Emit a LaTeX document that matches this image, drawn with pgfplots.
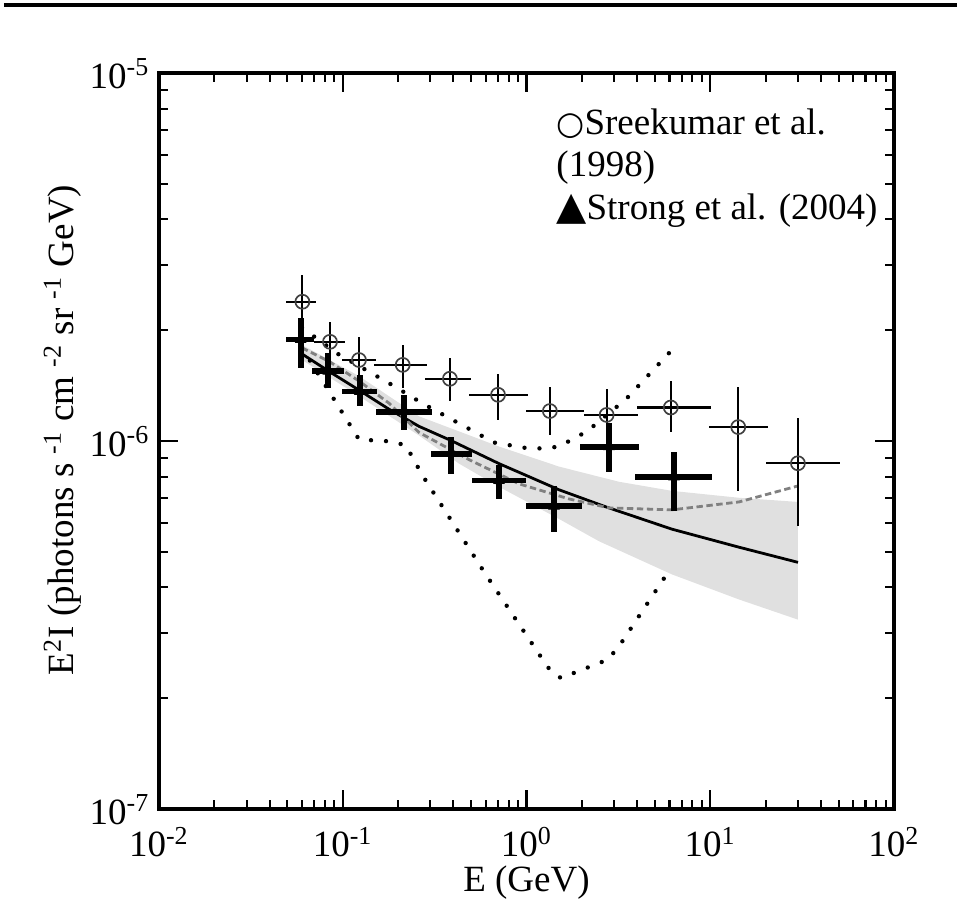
\documentclass[border=0pt]{standalone}
\usepackage{fontspec}
\setmainfont{Liberation Serif}
\newfontfamily\symf{DejaVu Sans}
\usepackage{pgfplots}
\pgfplotsset{compat=1.18}
\begin{document}
\fontsize{13.2}{15.8}\selectfont
\begin{tikzpicture}
\begin{axis}[
  scale only axis, width=92.16mm, height=92.29mm,
  xmode=log, ymode=log, log basis x=10, log basis y=10,
  xmin=1e-2, xmax=1e2, ymin=1e-7, ymax=1e-5,
  axis line style={line width=1.1pt},
  every tick/.style={black, line width=0.75pt},
  major tick length=2.4mm, minor tick length=1.15mm,
  tick align=inside, xtick pos=both, ytick pos=both,
  xticklabel pos=lower, yticklabel pos=left,
  xticklabel={\pgfmathtruncatemacro{\ex}{round(\tick)}10\textsuperscript{\ex}},
  yticklabel={\pgfmathtruncatemacro{\ex}{round(\tick)}10\textsuperscript{\ex}},
  tick label style={font=\fontsize{13.2}{15.8}\selectfont},
  xticklabel style={anchor=base, inner sep=0pt, yshift=-6.0mm},
  yticklabel style={anchor=base east, inner sep=0pt, xshift=-1.1mm, yshift=-1.9mm},
  label style={font=\fontsize{13.2}{15.8}\selectfont},
  xlabel={E (GeV)},
  xlabel style={at={(axis description cs:0.5,-0.1124)}, anchor=base, inner sep=0pt},
  ylabel={E\textsuperscript{2}I (photons s \textsuperscript{-1} cm \textsuperscript{-2} sr \textsuperscript{-1} GeV)},
  ylabel style={at={(axis description cs:-0.117,0.515)}, anchor=base, inner sep=0pt},
]
% uncertainty band
\addplot[fill=black!12, draw=none] coordinates {
  (0.0600,1.825e-6) (0.1226,1.501e-6) (0.2600,1.167e-6) (0.4292,1.062e-6)
  (0.7085,9.66e-7) (1.503,8.52e-7) (3.187,7.75e-7) (6.19,7.32e-7)
  (14.34,7.01e-7) (30.03,6.83e-7)
  (30.03,3.27e-7) (14.34,3.71e-7) (6.19,4.34e-7) (2.481,5.34e-7)
  (1.503,6.14e-7) (0.7085,7.51e-7) (0.4292,8.68e-7) (0.2600,1.035e-6)
  (0.1226,1.324e-6) (0.0600,1.661e-6)
} -- cycle;
% solid fit
\addplot[black, line width=0.35mm] coordinates {
  (0.0600,1.724e-6) (0.0852,1.540e-6) (0.1226,1.375e-6) (0.1785,1.220e-6)
  (0.2600,1.096e-6) (0.3882,1.003e-6) (0.7085,8.68e-7) (1.032,8.00e-7)
  (1.503,7.37e-7) (2.709,6.62e-7) (6.19,5.76e-7) (14.34,5.145e-7) (30.03,4.68e-7)
};
% dashed
\addplot[black!50, line width=0.35mm, dash pattern=on 0.8mm off 0.45mm] coordinates {
  (0.0600,1.791e-6) (0.0852,1.640e-6) (0.1226,1.455e-6) (0.1785,1.267e-6)
  (0.2600,1.055e-6) (0.4866,8.90e-7) (0.9104,7.65e-7) (1.703,6.96e-7)
  (2.812,6.58e-7) (6.19,6.50e-7) (14.34,6.83e-7) (30.03,7.55e-7)
};
% upper dotted
\addplot[black, line width=0.55mm, line cap=round, dash pattern=on 0pt off 1.88mm] coordinates {
  (0.0600,2.031e-6) (0.0942,1.724e-6) (0.1901,1.410e-6) (0.2700,1.267e-6)
  (0.6655,9.906e-7) (0.9938,9.57e-7) (1.245,9.54e-7) (1.503,9.66e-7)
  (2.135,1.062e-6) (3.479,1.299e-6) (6.115,1.757e-6)
};
% lower dotted
\addplot[black, line width=0.55mm, line cap=round, dash pattern=on 0pt off 1.88mm] coordinates {
  (0.0600,1.791e-6) (0.1226,1.0095e-6) (0.1854,9.97e-7) (0.2209,9.72e-7)
  (0.2700,8.10e-7) (0.5943,4.37e-7) (1.199,2.589e-7) (1.343,2.385e-7)
  (1.541,2.268e-7) (1.859,2.355e-7) (2.743,2.541e-7) (3.148,2.741e-7)
  (6.19,4.565e-7)
};
% Strong et al. (2004)
\addplot[black, only marks, mark=triangle*, mark size=2pt,
  error bars/.cd, x dir=both, x explicit, y dir=both, y explicit,
  error mark=none, error bar style={line width=2.1pt, black}]
  table[x=x, y=y, x error minus=xm, x error plus=xp, y error minus=ym, y error plus=yp] {
x y xm xp ym yp
0.0590 1.887e-6 0.0101 0.0108 3.08e-7 2.77e-7
0.0834 1.546e-6 0.0154 0.0182 1.54e-7 1.89e-7
0.1237 1.363e-6 0.0246 0.0299 1.22e-7 1.51e-7
0.2154 1.202e-6 0.0643 0.0917 1.32e-7 1.33e-7
0.3868 9.24e-7 0.0858 0.1202 1.09e-7 1.03e-7
0.7085 7.81e-7 0.2015 0.2815 0.85e-7 0.78e-7
1.411 6.65e-7 0.421 0.589 0.98e-7 0.89e-7
2.81 9.64e-7 0.862 1.286 1.40e-7 1.52e-7
6.35 7.98e-7 2.455 3.83 1.51e-7 1.36e-7
};
% Sreekumar et al. (1998)
\addplot[black, only marks, mark=o, mark size=2.5pt, mark options={black!75, line width=0.6pt},
  error bars/.cd, x dir=both, x explicit, y dir=both, y explicit,
  error mark=none, error bar style={line width=0.75pt, black}]
  table[x=x, y=y, x error minus=xm, x error plus=xp, y error minus=ym, y error plus=yp] {
x y xm xp ym yp
0.0603 2.39e-6 0.0114 0.0110 4.2e-7 4.4e-7
0.0852 1.86e-6 0.0154 0.0176 2.3e-7 2.5e-7
0.1225 1.66e-6 0.0234 0.0292 2.23e-7 2.56e-7
0.212 1.61e-6 0.064 0.0754 2.18e-7 2.19e-7
0.383 1.476e-6 0.1027 0.116 1.93e-7 2.05e-7
0.70 1.335e-6 0.213 0.315 1.95e-7 1.88e-7
1.34 1.206e-6 0.35 0.716 1.69e-7 1.95e-7
2.73 1.177e-6 0.674 1.33 1.61e-7 2.06e-7
6.1 1.233e-6 2.09 3.96 1.78e-7 2.19e-7
14.2 1.091e-6 4.36 6.4 3.58e-7 3.1e-7
30.0 8.70e-7 9.8 20.8 2.84e-7 2.88e-7
};
% legend text
\node[anchor=base west, inner sep=0pt] at (rel axis cs:0.540,0.9158)
  {{\symf\fontsize{11.5}{12}\selectfont ○}Sreekumar et al.};
\node[anchor=base west, inner sep=0pt] at (rel axis cs:0.540,0.8587) {(1998)};
\node[anchor=base west, inner sep=0pt] at (rel axis cs:0.540,0.8016)
  {{\symf\fontsize{14}{15}\selectfont ▲}Strong et al. (2004)};
\end{axis}
\draw[line width=0.5mm] ([shift={(-19.44mm,8.49mm)}]current axis.north west) -- ([shift={(7.9mm,8.49mm)}]current axis.north east);
\pgfresetboundingbox
\path[use as bounding box] ([shift={(-19.94mm,-13.79mm)}]current axis.south west) rectangle ([shift={(7.90mm,9.15mm)}]current axis.north east);
\end{tikzpicture}
\end{document}
